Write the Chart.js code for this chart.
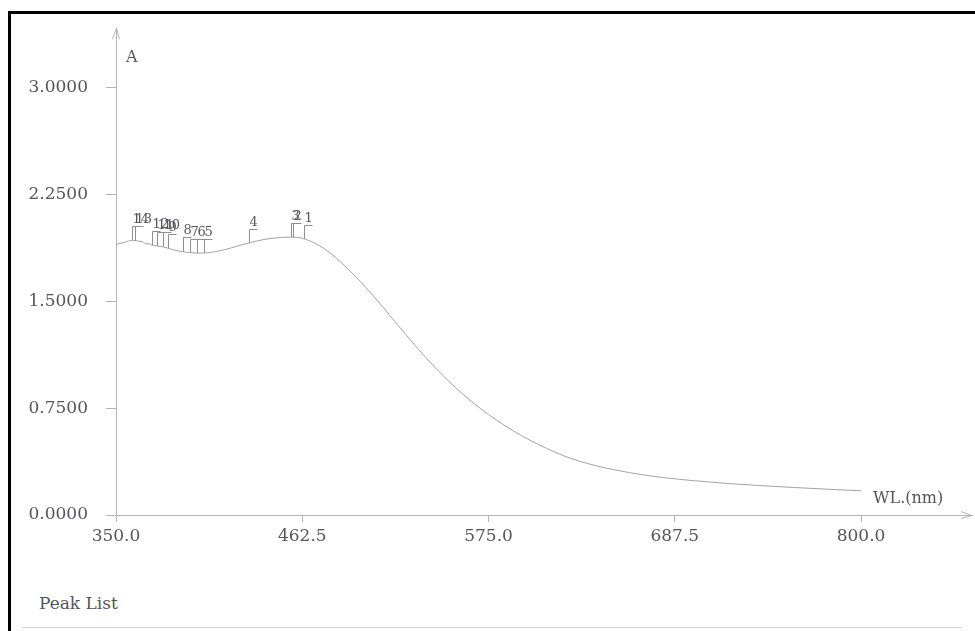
<!DOCTYPE html>
<html>
<head>
<meta charset="utf-8">
<script src="https://cdn.jsdelivr.net/npm/chart.js@4.4.0/dist/chart.umd.min.js"></script>
<style>
  html, body { margin: 0; padding: 0; background: #fff; overflow: hidden; }
  #wrap { position: relative; width: 975px; height: 631px; }
  #frame { position: absolute; left: 8px; top: 11px; width: 1000px; height: 700px;
           border: 3px solid #000; box-sizing: border-box; }
  #rule { position: absolute; left: 22px; top: 627px; width: 940px; border-top: 1px solid #d4d4da; }
  #peakList { position: absolute; left: 39px; top: 593px; font: 17px "DejaVu Serif", serif; color: #55555d; }
  canvas { position: absolute; left: 0; top: 0; }
</style>
</head>
<body>
<div id="wrap">
  <div id="frame"></div>
  <div id="rule"></div>
  <div id="peakList">Peak List</div>
  <canvas id="spectrum" width="975" height="631"></canvas>
</div>
<script>
// absorption spectrum
const wavelengths = [350, 355, 360, 363, 366, 368, 370, 372, 375, 378, 381, 385, 390, 395, 400,
  405, 410, 415, 420, 425, 430, 435, 440, 445, 450, 455, 460, 465, 470, 475, 480, 485, 490, 495,
  500, 505, 510, 515, 520, 525, 530, 535, 540, 545, 550, 555, 560, 565, 570, 575, 580, 585, 590, 595, 600,
  610, 620, 630, 640, 650, 660, 670, 680, 690, 700, 720, 740, 760, 780, 800];
const absorbance = [1.90, 1.915, 1.93, 1.925, 1.92, 1.905, 1.905, 1.895, 1.89, 1.885, 1.876, 1.862, 1.85, 1.843, 1.84,
  1.842, 1.85, 1.862, 1.878, 1.895, 1.91, 1.925, 1.937, 1.945, 1.95, 1.952, 1.95, 1.935, 1.91, 1.877, 1.835, 1.785, 1.73, 1.672,
  1.61, 1.545, 1.477, 1.407, 1.337, 1.268, 1.20, 1.134, 1.07, 1.009, 0.951, 0.896, 0.844, 0.795, 0.749, 0.706, 0.665, 0.627, 0.591, 0.557, 0.526,
  0.468, 0.418, 0.378, 0.346, 0.32, 0.298, 0.279, 0.264, 0.251, 0.24, 0.221, 0.206, 0.193, 0.181, 0.17];

// peak pick list
const peakLabels = ['1', '2', '3', '4', '5', '6', '7', '8', '9', '10', '11', '12', '13', '14'];
const peakWl = [463.5, 456.9, 455.7, 430.3, 403.1, 398.9, 394.7, 390.5, 381.4, 378.4, 374.8, 371.7, 361.5, 359.7];
const peakAbs = [1.94, 1.951, 1.952, 1.91, 1.842, 1.841, 1.842, 1.85, 1.876, 1.885, 1.89, 1.897, 1.928, 1.93];

const xTicks = [350, 462.5, 575, 687.5, 800];
const yTicks = [0, 0.75, 1.5, 2.25, 3.0];

const textColor = '#55555d';
const axisColor = '#b4b4bc';
const font = { family: '"DejaVu Serif", serif', size: 17 };

const decor = {
  id: 'decor',
  afterDatasetsDraw(chart) {
    const { ctx, chartArea: a, scales: { x, y } } = chart;
    ctx.save();
    ctx.strokeStyle = axisColor;
    ctx.lineWidth = 1;
    // axis arrows
    ctx.beginPath();
    ctx.moveTo(a.left - 3.5, a.top + 11); ctx.lineTo(a.left + 0.5, a.top); ctx.lineTo(a.left + 3.5, a.top + 11);
    ctx.moveTo(a.right - 11, a.bottom - 3.5); ctx.lineTo(a.right, a.bottom + 0.5); ctx.lineTo(a.right - 11, a.bottom + 3.5);
    ctx.stroke();

    ctx.fillStyle = textColor;
    ctx.font = '16px "DejaVu Serif", serif';
    ctx.textBaseline = 'middle';
    ctx.fillText('A', a.left + 10, a.top + 30);
    ctx.fillText('WL.(nm)', x.getPixelForValue(800) + 12, a.bottom - 16);

    // peak markers
    ctx.strokeStyle = '#8e8e96';
    ctx.font = '13px "DejaVu Serif", serif';
    ctx.textBaseline = 'alphabetic';
    peakWl.forEach((wl, i) => {
      const px = Math.round(x.getPixelForValue(wl)) + 0.5;
      const py0 = y.getPixelForValue(peakAbs[i]);
      const py1 = Math.round(y.getPixelForValue(peakAbs[i] + 0.1)) + 0.5;
      ctx.beginPath();
      ctx.moveTo(px, py0);
      ctx.lineTo(px, py1);
      ctx.lineTo(px + 8, py1);
      ctx.stroke();
      ctx.fillText(peakLabels[i], px, py1 - 4);
    });
    ctx.restore();
  }
};

new Chart(document.getElementById('spectrum').getContext('2d'), {
  type: 'line',
  data: {
    datasets: [{
      data: wavelengths.map((w, i) => ({ x: w, y: absorbance[i] })),
      borderColor: '#a2a2aa',
      borderWidth: 1,
      pointRadius: 0,
      cubicInterpolationMode: 'monotone',
      fill: false
    }]
  },
  options: {
    responsive: false,
    animation: false,
    events: [],
    layout: { padding: { left: 10, top: 28, right: 3, bottom: 76 } },
    plugins: { legend: { display: false }, tooltip: { enabled: false } },
    scales: {
      x: {
        type: 'linear',
        min: 350,
        max: 867,
        afterBuildTicks: s => { s.ticks = xTicks.map(v => ({ value: v })); },
        afterFit: s => { s.height = 40; },
        grid: { drawOnChartArea: false, drawTicks: true, tickLength: 7, color: axisColor },
        border: { color: axisColor },
        ticks: { color: textColor, font, padding: 4, maxRotation: 0, callback: v => v.toFixed(1) }
      },
      y: {
        type: 'linear',
        min: 0,
        max: 3.42,
        afterBuildTicks: s => { s.ticks = yTicks.map(v => ({ value: v })); },
        afterFit: s => { s.width = 106; },
        grid: { drawOnChartArea: false, drawTicks: true, tickLength: 10, color: axisColor },
        border: { color: axisColor },
        ticks: { color: textColor, font, padding: 18, callback: v => v.toFixed(4) }
      }
    }
  },
  plugins: [decor]
});
</script>
</body>
</html>
